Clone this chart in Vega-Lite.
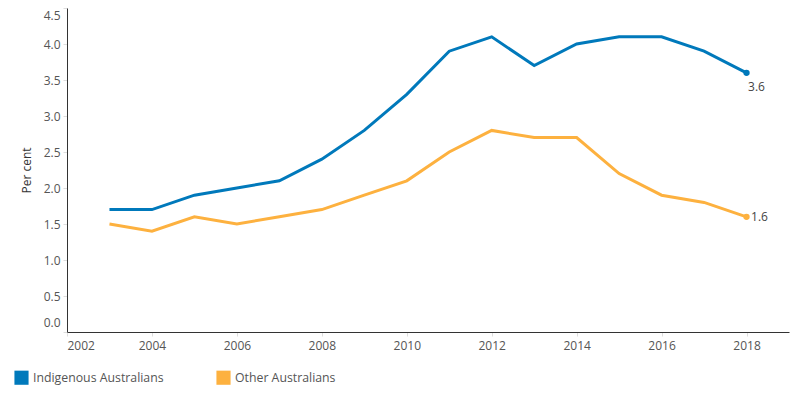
{
  "$schema": "https://vega.github.io/schema/vega-lite/v6.json",
  "width": 722,
  "height": 324,
  "autosize": {"type": "none"},
  "padding": {"left": 67, "top": 8, "right": 11, "bottom": 64},
  "background": "white",
  "config": {
    "view": {"stroke": null},
    "font": "Open Sans",
    "axis": {"labelFont": "Open Sans", "titleFont": "Open Sans", "labelColor": "#555555", "titleColor": "#333333", "labelFontSize": 12, "grid": false}
  },
  "data": {
    "values": [
      {"year": 2003, "group": "Indigenous Australians", "value": 1.7},
      {"year": 2004, "group": "Indigenous Australians", "value": 1.7},
      {"year": 2005, "group": "Indigenous Australians", "value": 1.9},
      {"year": 2006, "group": "Indigenous Australians", "value": 2.0},
      {"year": 2007, "group": "Indigenous Australians", "value": 2.1},
      {"year": 2008, "group": "Indigenous Australians", "value": 2.4},
      {"year": 2009, "group": "Indigenous Australians", "value": 2.8},
      {"year": 2010, "group": "Indigenous Australians", "value": 3.3},
      {"year": 2011, "group": "Indigenous Australians", "value": 3.9},
      {"year": 2012, "group": "Indigenous Australians", "value": 4.1},
      {"year": 2013, "group": "Indigenous Australians", "value": 3.7},
      {"year": 2014, "group": "Indigenous Australians", "value": 4.0},
      {"year": 2015, "group": "Indigenous Australians", "value": 4.1},
      {"year": 2016, "group": "Indigenous Australians", "value": 4.1},
      {"year": 2017, "group": "Indigenous Australians", "value": 3.9},
      {"year": 2018, "group": "Indigenous Australians", "value": 3.6},
      {"year": 2003, "group": "Other Australians", "value": 1.5},
      {"year": 2004, "group": "Other Australians", "value": 1.4},
      {"year": 2005, "group": "Other Australians", "value": 1.6},
      {"year": 2006, "group": "Other Australians", "value": 1.5},
      {"year": 2007, "group": "Other Australians", "value": 1.6},
      {"year": 2008, "group": "Other Australians", "value": 1.7},
      {"year": 2009, "group": "Other Australians", "value": 1.9},
      {"year": 2010, "group": "Other Australians", "value": 2.1},
      {"year": 2011, "group": "Other Australians", "value": 2.5},
      {"year": 2012, "group": "Other Australians", "value": 2.8},
      {"year": 2013, "group": "Other Australians", "value": 2.7},
      {"year": 2014, "group": "Other Australians", "value": 2.7},
      {"year": 2015, "group": "Other Australians", "value": 2.2},
      {"year": 2016, "group": "Other Australians", "value": 1.9},
      {"year": 2017, "group": "Other Australians", "value": 1.8},
      {"year": 2018, "group": "Other Australians", "value": 1.6}
    ]
  },
  "encoding": {
    "x": {
      "field": "year", "type": "quantitative",
      "scale": {"domain": [2002, 2019], "nice": false, "zero": false},
      "axis": {"title": null, "values": [2002, 2004, 2006, 2008, 2010, 2012, 2014, 2016, 2018], "format": "d", "labelFlush": true, "tickColor": "#dddddd", "tickSize": 4, "labelPadding": 4, "domainColor": "#333333"}
    },
    "y": {
      "field": "value", "type": "quantitative",
      "scale": {"domain": [0, 4.5], "nice": false},
      "axis": {"title": "Per cent", "values": [0, 0.5, 1, 1.5, 2, 2.5, 3, 3.5, 4, 4.5], "format": ".1f", "labelFlush": true, "labelFlushOffset": -2.5, "tickColor": "#dddddd", "tickSize": 4, "labelPadding": 3, "domainColor": "#333333", "titleFontSize": 12, "titleFontWeight": "normal", "titlePadding": 10}
    },
    "color": {
      "field": "group", "type": "nominal",
      "scale": {"domain": ["Indigenous Australians", "Other Australians"], "range": ["#0079bb", "#fdb13f"]},
      "legend": {"title": null, "orient": "none", "legendX": -53, "legendY": 362, "direction": "horizontal", "symbolType": "square", "symbolSize": 200, "symbolStrokeWidth": 0, "labelFontSize": 12.3, "labelColor": "#555555", "labelFont": "Open Sans", "columnPadding": 52, "symbolOffset": 0}
    }
  },
  "layer": [
    {"mark": {"type": "line", "strokeWidth": 3}},
    {"transform": [{"filter": "datum.year == 2018"}], "mark": {"type": "point", "filled": true, "size": 40, "opacity": 1}},
    {"transform": [{"filter": "datum.group == 'Indigenous Australians' && datum.year == 2018"}], "mark": {"type": "text", "dy": 14, "dx": 10, "fontSize": 12, "color": "#444444"}, "encoding": {"text": {"field": "value", "type": "quantitative", "format": ".1f"}, "color": {"value": "#444444"}}},
    {"transform": [{"filter": "datum.group == 'Other Australians' && datum.year == 2018"}], "mark": {"type": "text", "dx": 13, "dy": 0, "fontSize": 12, "color": "#444444"}, "encoding": {"text": {"field": "value", "type": "quantitative", "format": ".1f"}, "color": {"value": "#444444"}}}
  ]
}
